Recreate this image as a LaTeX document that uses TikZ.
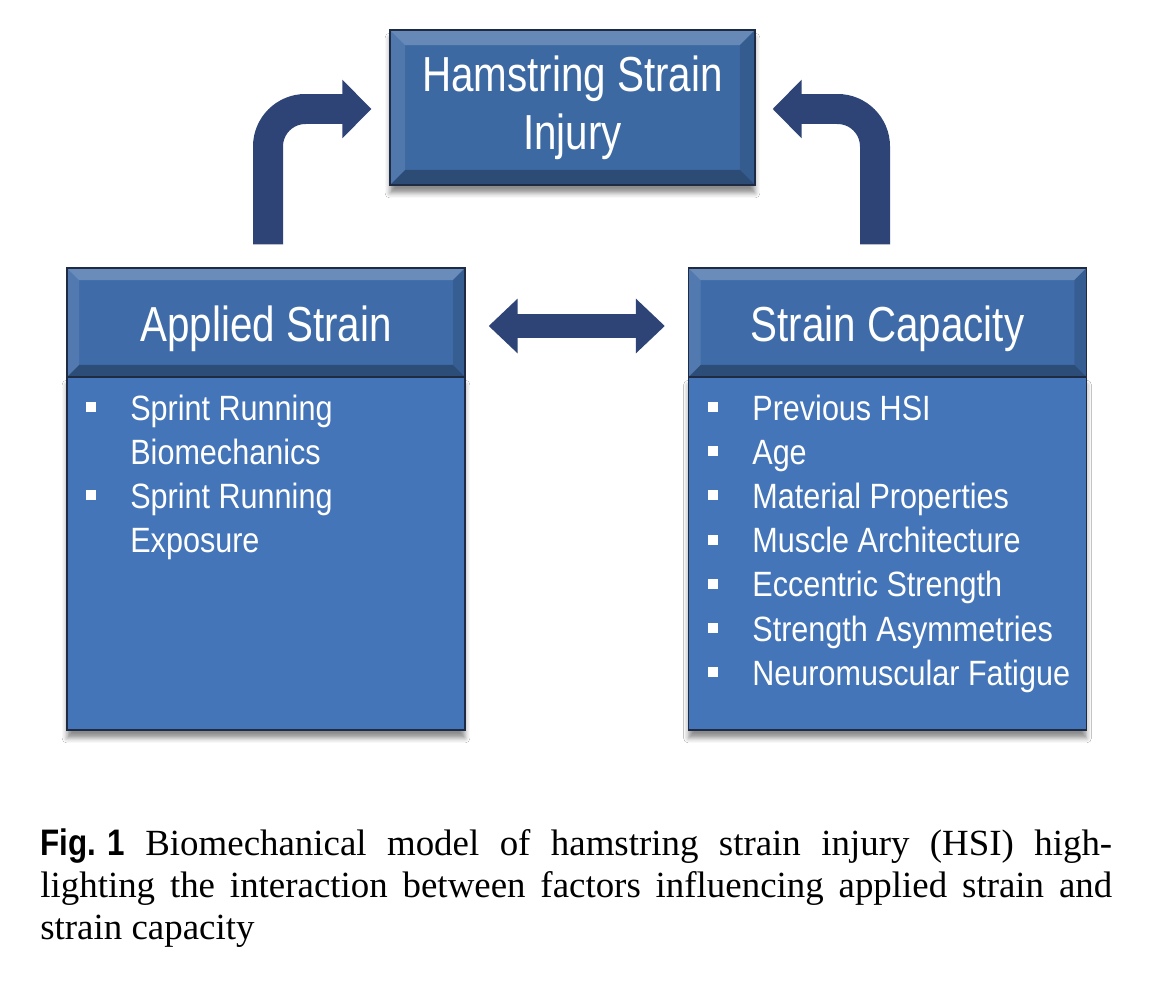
\documentclass[tikz,border=0pt]{standalone}
\usepackage{fontspec}
\setmainfont{Liberation Sans}
\newfontfamily\diagfont[FakeStretch=0.87]{Liberation Sans}
\newfontfamily\headfont[FakeStretch=0.82]{Liberation Sans}
\newfontfamily\capfont{Liberation Serif}
\newfontfamily\figfont[FakeStretch=0.85]{Liberation Sans}
\usetikzlibrary{arrows.meta,positioning,calc,shadows.blur}
\definecolor{hsiblue}{HTML}{3D69A3}
\definecolor{headblue}{HTML}{3F6CA8}
\definecolor{bodyblue}{HTML}{4475B9}
\definecolor{arrownavy}{HTML}{2E4476}
\definecolor{edgedark}{HTML}{1E2B42}

\begin{document}
\begin{tikzpicture}[x=0.02cm,y=-0.02cm,
      bevel/.style={path picture={
        \path (path picture bounding box.south west) coordinate (pbl)
              (path picture bounding box.north east) coordinate (ptr);
        \fill[white,opacity=0.22] (pbl|-ptr) -- (ptr) -- ($(ptr)+(-#1,-#1)$) -- ($(pbl|-ptr)+(#1,-#1)$) -- cycle;
        \fill[white,opacity=0.10] (pbl|-ptr) -- ($(pbl|-ptr)+(#1,-#1)$) -- ($(pbl)+(#1,#1)$) -- (pbl) -- cycle;
        \fill[black,opacity=0.12] (ptr) -- ($(ptr)+(-#1,-#1)$) -- ($(ptr|-pbl)+(-#1,#1)$) -- (ptr|-pbl) -- cycle;
        \fill[black,opacity=0.28] (pbl) -- ($(pbl)+(#1,#1)$) -- ($(ptr|-pbl)+(-#1,#1)$) -- (ptr|-pbl) -- cycle;}},
      boxshadow/.style={blur shadow={shadow xshift=0cm,shadow yshift=-0.16cm,
        shadow blur radius=0.1cm,shadow opacity=45}},
      titlebox/.style={draw=edgedark,line width=0.8pt,fill=hsiblue,bevel=0.3cm,boxshadow,
        minimum width=7.3cm,minimum height=3.1cm,inner sep=0pt,align=center,text=white,
        font=\headfont\fontsize{28}{33}\selectfont},
      headbox/.style={draw=edgedark,line width=0.8pt,fill=headblue,bevel=0.24cm,
        minimum width=7.96cm,minimum height=2.18cm,inner sep=0pt,text=white,
        font=\headfont\fontsize{28}{33}\selectfont},
      bodybox/.style={draw=edgedark,line width=0.8pt,fill=bodyblue,boxshadow,
        minimum width=7.96cm,minimum height=7.06cm,inner sep=0pt},
      item/.style={anchor=base west,inner sep=0pt,text=white,font=\diagfont\fontsize{20}{24}\selectfont},
      bullet/.style={fill=white,minimum size=0.2cm,inner sep=0pt},
      bentarrow/.style={draw=arrownavy,line width=0.6cm,rounded corners=0.75cm,
        -{Triangle[length=0.58cm,width=1.14cm]}},
      dblarrow/.style={draw=arrownavy,line width=0.5cm,
        {Triangle[length=0.58cm,width=1.06cm]}-{Triangle[length=0.58cm,width=1.06cm]}}]
    \useasboundingbox[fill=white] (0,0) rectangle (1173,983);
    % boxes
    \node[bodybox] (asbody) at (266,553.5) {};
    \node[bodybox] (scbody) at (887.5,553.5) {};
    \node[headbox] (ashead) at (266,322.5) {\raisebox{-0.12cm}[\height][\depth]{Applied Strain}};
    \node[headbox] (schead) at (887.5,322.5) {\raisebox{-0.12cm}[\height][\depth]{Strain Capacity}};
    \node[titlebox] (hsi) at (572.5,107.5) {Hamstring Strain\\Injury};
    % arrows
    \draw[bentarrow] ($(ashead.north)+(2,-23)$) |- ($(hsi.west)+(-18,1.5)$);
    \draw[bentarrow] ($(schead.north)+(-12.5,-23)$) |- ($(hsi.east)+(17,1.5)$);
    \draw[dblarrow] ($(ashead.east)+(23,3.5)$) -- ($(schead.west)+(-23,3.5)$);
    % lists
    \foreach \t/\b [count=\i from 0] in {Sprint Running/1,Biomechanics/0,Sprint Running/1,Exposure/0} {
      \node[item] (as\i) at (130,{420+44.2*\i}) {\t};
      \ifnum\b=1 \node[bullet] (asb\i) at (91,{407+44.2*\i}) {}; \fi
    }
    \foreach \t [count=\i from 0] in {Previous HSI,Age,Material Properties,Muscle Architecture,
        Eccentric Strength,Strength Asymmetries,Neuromuscular Fatigue} {
      \node[item] (sc\i) at (752,{420+44.2*\i}) {\t};
      \node[bullet] (scb\i) at (713,{407+44.2*\i}) {};
    }
    % caption
    \node[anchor=base west,inner sep=0pt] (figlbl) at (40,855) {\figfont\fontsize{21}{25}\selectfont\bfseries Fig. 1};
    \node[anchor=base west,inner sep=0pt] (cap1) at (145,855) {\capfont\fontsize{21}{25}\selectfont
      \makebox[19.34cm][s]{Biomechanical model of hamstring strain injury (HSI) high-}};
    \node[anchor=base west,inner sep=0pt] (cap2) at (40,897) {\capfont\fontsize{21}{25}\selectfont
      \makebox[21.44cm][s]{lighting the interaction between factors influencing applied strain and}};
    \node[anchor=base west,inner sep=0pt] (cap3) at (40,939) {\capfont\fontsize{21}{25}\selectfont strain capacity};
\end{tikzpicture}
\end{document}
